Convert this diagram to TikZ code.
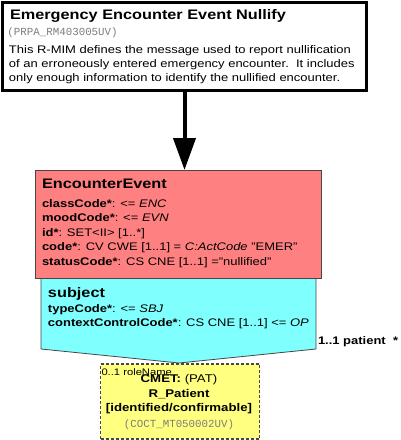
\documentclass[tikz,border=0pt]{standalone}
\usepackage{fontspec}
\setmainfont[FakeStretch=1.18]{Liberation Sans}
\setmonofont{Liberation Mono}
\usetikzlibrary{arrows.meta}
\definecolor{actred}{RGB}{255,128,128}
\definecolor{partcyan}{RGB}{128,255,255}
\definecolor{cmetyellow}{RGB}{255,255,128}
\definecolor{bordergray}{RGB}{70,70,70}
\definecolor{codegray}{RGB}{125,125,125}
\newcommand{\fsz}[1]{\fontsize{#1}{#1}\selectfont}
\begin{document}
\begin{tikzpicture}[x=1pt,y=-1pt,
  txt/.style={anchor=base west,inner sep=0pt,outer sep=0pt},
  ctxt/.style={anchor=base,inner sep=0pt,outer sep=0pt},
  bodytxt/.style={txt,font=\fsz{11}},
  headtxt/.style={txt,font=\bfseries\fsz{13.8}},
  codetxt/.style={font=\ttfamily\fsz{10.8},text=codegray},
  box/.style={anchor=north west,inner sep=0pt,outer sep=0pt},
  thinborder/.style={draw=bordergray,line width=0.8pt},
  bigarrow/.style={line width=4pt,-{Triangle[width=22pt,length=32pt]}}
]
\useasboundingbox (0,0) rectangle (400,440);
\fill[white] (0,0) rectangle (400,440);

% header box
\node[box,draw=black,line width=3pt,fill=white,minimum width=364pt,minimum height=88pt] (hdr) at (2.5,2.5) {};
\node[headtxt] (title) at (10,19.3) {Emergency Encounter Event Nullify};
\node[txt,codetxt] (rmcode) at (7.5,35) {(PRPA\_RM403005UV)};
\node[bodytxt] (desc1) at (9,53.5) {This R-MIM defines the message used to report nullification};
\node[bodytxt] (desc2) at (9,67.5) {of an erroneously entered emergency encounter.\ \ It includes};
\node[bodytxt] (desc3) at (9,81.5) {only enough information to identify the nullified encounter.};

% subject participation shape
\coordinate (sTL) at (41,278);
\coordinate (sTR) at (316,278);
\coordinate (sBR) at (316,349);
\coordinate (sTip) at (179,363);
\coordinate (sBL) at (41,349);
\draw[thinborder,fill=partcyan] (sTL) -- (sTR) -- (sBR) -- (sTip) -- (sBL) -- cycle;

% act box
\node[box,thinborder,fill=actred,minimum width=286pt,minimum height=108pt] (ee) at (35,170) {};
\node[headtxt] (eename) at (42,188.3) {EncounterEvent};
\node[bodytxt] (a1) at (42,207) {\textbf{classCode*}: <= \textit{ENC}};
\node[bodytxt] (a2) at (42,221.5) {\textbf{moodCode*}: <= \textit{EVN}};
\node[bodytxt] (a3) at (42,236) {\textbf{id*}: SET<II> [1..*]};
\node[bodytxt] (a4) at (42,250.5) {\textbf{code*}: CV CWE [1..1] = \textit{C:ActCode} "EMER"};
\node[bodytxt] (a5) at (42,265) {\textbf{statusCode*}: CS CNE [1..1] ="nullified"};

% subject texts
\node[headtxt] (subjname) at (48,297) {subject};
\node[bodytxt] (s1) at (48,312) {\textbf{typeCode*}: <= \textit{SBJ}};
\node[bodytxt] (s2) at (48,326.5) {\textbf{contextControlCode*}: CS CNE [1..1] <= \textit{OP}};
\node[txt,font=\bfseries\fsz{11}] (rolelbl) at (318,344) {1..1 patient\ \ *};

% CMET box
\node[box,draw=bordergray,line width=1.1pt,dash pattern=on 3pt off 2pt,fill=cmetyellow,minimum width=159pt,minimum height=75pt] (pat) at (100.5,364) {};
\node[txt,font=\fsz{9.5}] (rolename) at (101.5,375) {0..1 roleName};
\node[ctxt,font=\fsz{11.2}] (cmet1) at (179,382) {\textbf{CMET:} (PAT)};
\node[ctxt,font=\bfseries\fsz{11.2}] (cmet2) at (179,397) {R\_Patient};
\node[ctxt,font=\bfseries\fsz{11.2}] (cmet3) at (179,411.5) {[identified/confirmable]};
\node[ctxt,codetxt] (cmet4) at (179,427) {(COCT\_MT050002UV)};

% connector
\draw[bigarrow] (hdr.south) -- (hdr.south |- ee.north);
\end{tikzpicture}
\end{document}
